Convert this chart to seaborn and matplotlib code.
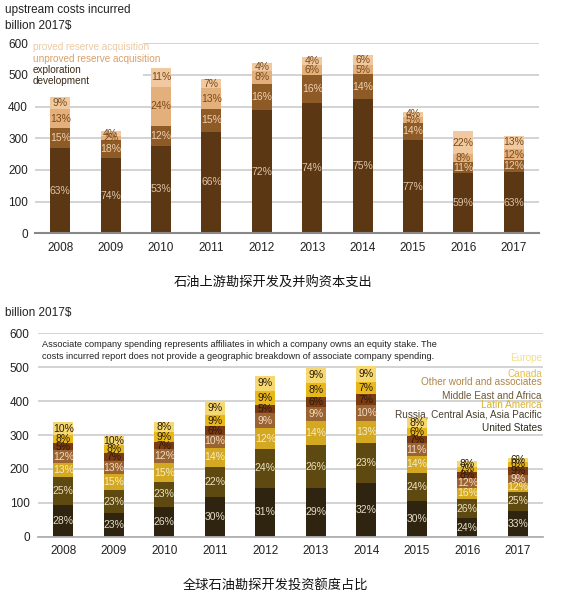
import numpy as np
import pandas as pd
import matplotlib
matplotlib.use("Agg")
import matplotlib.pyplot as plt
import seaborn as sns

sns.set_style("white")
plt.rcParams['font.family'] = ['Liberation Sans', 'DejaVu Sans']

years = ["2008", "2009", "2010", "2011", "2012", "2013", "2014", "2015", "2016", "2017"]

# top chart: upstream costs incurred, billion 2017$ (segment heights)
development = [268, 237, 277, 321, 388, 410, 424, 295, 189, 193]
exploration = [65, 58, 62, 71, 84, 90, 79, 54, 35, 37]
unproved = [59, 12, 124, 66, 42, 30, 28, 19, 26, 37]
proved = [37, 16, 58, 29, 23, 28, 32, 15, 73, 40]

development_pct = ["63%", "74%", "53%", "66%", "72%", "74%", "75%", "77%", "59%", "63%"]
exploration_pct = ["15%", "18%", "12%", "15%", "16%", "16%", "14%", "14%", "11%", "12%"]
unproved_pct = ["13%", "2%", "24%", "13%", "8%", "6%", "5%", "5%", "8%", "12%"]
proved_pct = ["9%", "4%", "11%", "7%", "4%", "4%", "6%", "4%", "22%", "13%"]

# bottom chart: regional split, billion 2017$
united_states = [93, 69, 87, 118, 145, 143, 159, 105, 54, 77]
russia_asia = [84, 69, 75, 88, 114, 127, 116, 84, 57, 56]
latin_america = [39, 46, 54, 57, 61, 71, 67, 49, 34, 26]
middle_east_africa = [40, 39, 42, 37, 44, 42, 46, 37, 27, 23]
other_world = [19, 23, 22, 26, 24, 30, 33, 23, 20, 24]
canada = [25, 24, 30, 33, 42, 41, 36, 22, 14, 15]
europe = [37, 27, 29, 42, 44, 47, 46, 29, 17, 10]

us_pct = ["28%", "23%", "26%", "30%", "31%", "29%", "32%", "30%", "24%", "33%"]
russia_pct = ["25%", "23%", "23%", "22%", "24%", "26%", "23%", "24%", "26%", "25%"]
latin_pct = ["13%", "15%", "15%", "14%", "12%", "14%", "13%", "14%", "16%", "12%"]
mea_pct = ["12%", "13%", "12%", "10%", "9%", "9%", "10%", "11%", "12%", "9%"]
other_pct = ["5%", "7%", "7%", "6%", "5%", "6%", "7%", "7%", "8%", "9%"]
canada_pct = ["8%", "8%", "9%", "9%", "9%", "8%", "7%", "6%", "7%", "6%"]
europe_pct = ["10%", "10%", "8%", "9%", "9%", "9%", "9%", "8%", "8%", "6%"]


def stacked(ax, layers, colors, labels, label_colors):
    df = pd.DataFrame({f"s{i}": v for i, v in enumerate(layers)}, index=years)
    cum = df.cumsum(axis=1)
    # draw the cumulative totals from the top down so each layer covers the one above
    for i in reversed(range(len(layers))):
        sns.barplot(x=years, y=cum[f"s{i}"].values, color=colors[i], width=0.4,
                    saturation=1, linewidth=0, ax=ax, zorder=2)
    for i in range(len(layers)):
        mid = cum[f"s{i}"].values - df[f"s{i}"].values / 2
        for j, y in enumerate(years):
            ax.text(j, mid[j], labels[i][j], ha="center", va="center",
                    fontsize=7.5, color=label_colors[i], zorder=3)


fig = plt.figure(figsize=(5.63, 6.02), dpi=100)

# ---------- top chart ----------
ax1 = fig.add_axes([35 / 563, 1 - 233.3 / 602, 504 / 563, 190 / 602])
stacked(ax1,
        [development, exploration, unproved, proved],
        ["#5c3714", "#8e5a26", "#e3b07c", "#f0c9a0"],
        [development_pct, exploration_pct, unproved_pct, proved_pct],
        ["#dcc2a6", "#ecd0b0", "#7a4a1a", "#7a4a1a"])
ax1.set_ylim(0, 600)
ax1.set_xlim(-0.5, 9.5)
ax1.set_yticks([0, 100, 200, 300, 400, 500, 600])
ax1.yaxis.grid(True, color="#d0d0d0", linewidth=1.3, zorder=0)
ax1.set_axisbelow(True)
for s in ["top", "right", "left"]:
    ax1.spines[s].set_visible(False)
ax1.spines["bottom"].set_color("#888888")
ax1.spines["bottom"].set_linewidth(1.5)
ax1.set_xticks(np.arange(10))
ax1.set_xticklabels(years)
ax1.set_xticks(np.arange(-0.5, 10, 1), minor=True)
ax1.tick_params(axis="x", which="major", length=0, pad=6, labelsize=8.5, labelcolor="#222222")
ax1.tick_params(axis="x", which="minor", length=3, color="#666666", direction="out")
ax1.tick_params(axis="y", length=0, pad=5, labelsize=8.5, labelcolor="#222222")
ax1.set_xlabel("")
ax1.add_patch(plt.Rectangle((-0.01, 475 / 600), 0.225, 0.22, transform=ax1.transAxes,
                            facecolor="white", edgecolor="none", zorder=1))
legend_top = [("proved reserve acquisition", "#ecc9a3", 588),
              ("unproved reserve acquisition", "#d9a06a", 551),
              ("exploration", "#3b2a18", 516),
              ("development", "#3b2a18", 481)]
for text, c, yv in legend_top:
    ax1.text(-0.004, yv / 600, text, transform=ax1.transAxes, fontsize=7.2, color=c,
             ha="left", va="center", zorder=4)

fig.text(5 / 563, 1 - 10 / 602, "upstream costs incurred", fontsize=8.5, va="center", color="#222222")
fig.text(5 / 563, 1 - 26 / 602, "billion 2017$", fontsize=8.5, va="center", color="#222222")
fig.text(0.485, 1 - 282 / 602, "石油上游勘探开发及并购资本支出", fontsize=9.5, ha="center", va="center",
         family=["Noto Sans CJK SC", "DejaVu Sans"], color="#111111")

# ---------- bottom chart ----------
ax2 = fig.add_axes([38 / 563, 1 - 536.7 / 602, 505 / 563, 203.4 / 602])
stacked(ax2,
        [united_states, russia_asia, latin_america, middle_east_africa, other_world, canada, europe],
        ["#2e2410", "#5e4a10", "#d4a820", "#9a6432", "#7a3a12", "#e8b818", "#f6d870"],
        [us_pct, russia_pct, latin_pct, mea_pct, other_pct, canada_pct, europe_pct],
        ["#e4dcc4", "#ece0c0", "#f6ecc8", "#f2dcc4", "#2a1a0a", "#2a1a0a", "#2a1a0a"])
ax2.set_ylim(0, 600)
ax2.set_xlim(-0.5, 9.5)
ax2.set_yticks([0, 100, 200, 300, 400, 500, 600])
ax2.yaxis.grid(True, color="#d0d0d0", linewidth=1.3, zorder=0)
ax2.set_axisbelow(True)
for s in ["top", "right", "left"]:
    ax2.spines[s].set_visible(False)
ax2.spines["bottom"].set_color("#b0b0b0")
ax2.spines["bottom"].set_linewidth(1.3)
ax2.tick_params(axis="x", length=0, pad=6, labelsize=8.5, labelcolor="#222222")
ax2.tick_params(axis="y", length=0, pad=6, labelsize=8.5, labelcolor="#222222")
ax2.set_xlabel("")

ax2.text(0.008, 568 / 600,
         "Associate company spending represents affiliates in which a company owns an equity stake. The",
         transform=ax2.transAxes, fontsize=6.6, ha="left", va="center", color="#222222", zorder=4)
ax2.text(0.008, 533 / 600,
         "costs incurred report does not provide a geographic breakdown of associate company spending.",
         transform=ax2.transAxes, fontsize=6.6, ha="left", va="center", color="#222222", zorder=4)

legend_bottom = [("Europe", "#f3de86", 527),
                 ("Canada", "#e4bc48", 480),
                 ("Other world and associates", "#b08446", 456),
                 ("Middle East and Africa", "#6b5a3a", 415),
                 ("Latin America", "#d8b030", 388),
                 ("Russia, Central Asia, Asia Pacific", "#4a4030", 359),
                 ("United States", "#2a2a1a", 321)]
for text, c, yv in legend_bottom:
    ax2.text(0.998, yv / 600, text, transform=ax2.transAxes, fontsize=7.2, color=c,
             ha="right", va="center", zorder=4)

fig.text(5 / 563, 1 - 313 / 602, "billion 2017$", fontsize=8.5, va="center", color="#222222")
fig.text(0.49, 1 - 585 / 602, "全球石油勘探开发投资额度占比", fontsize=9.5, ha="center", va="center",
         family=["Noto Sans CJK SC", "DejaVu Sans"], color="#111111")

fig.savefig("out.png", dpi=100)
